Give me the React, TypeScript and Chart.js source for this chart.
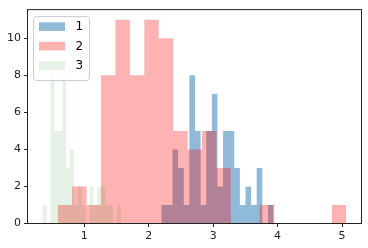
import React, { useEffect, useRef } from "react";
import { Chart, registerables } from "chart.js";

Chart.register(...registerables);

// ---- data ----
const seriesLabels = ["1", "2", "3"];
const seriesColors = ["rgba(31,119,180,0.5)", "rgba(255,0,0,0.3)", "rgba(0,128,0,0.1)"];

// [first bin edge, last bin edge] and the count in each of the 20 bins
const range1 = [2.195, 3.937];
const counts1 = [1, 1, 4, 3, 1, 8, 5, 1, 5, 7, 2, 5, 5, 3, 1, 2, 1, 3, 0, 1];
const range2 = [0.586, 5.067];
const counts2 = [1, 2, 1, 8, 11, 8, 11, 10, 5, 4, 5, 3, 0, 0, 1, 0, 0, 0, 0, 1];
const range3 = [0.353, 1.568];
const counts3 = [1, 0, 8, 5, 5, 8, 3, 4, 1, 2, 1, 0, 2, 1, 2, 2, 1, 1, 0, 1];

const xTicks = [1, 2, 3, 4, 5];
const yTicks = [0, 2, 4, 6, 8, 10];

// histogram outline as step points (value of each bin held until the next edge)
function histPoints(range: number[], counts: number[]) {
  const [lo, hi] = range;
  const w = (hi - lo) / counts.length;
  const pts = [{ x: lo, y: 0 }];
  counts.forEach((c, i) => pts.push({ x: lo + i * w, y: c }));
  pts.push({ x: hi, y: 0 });
  return pts;
}

const ranges = [range1, range2, range3];
const countsAll = [counts1, counts2, counts3];

const spinesPlugin = {
  id: "spines",
  afterDatasetsDraw(chart: any) {
    const { ctx, chartArea: a } = chart;
    ctx.save();
    ctx.strokeStyle = "#222";
    ctx.lineWidth = 1;
    ctx.strokeRect(a.left, a.top, a.right - a.left, a.bottom - a.top);
    ctx.restore();
  },
};

const legendPlugin = {
  id: "mplLegend",
  afterDraw(chart: any) {
    const { ctx, chartArea: a } = chart;
    const x0 = a.left + 6;
    const y0 = a.top + 7;
    const w = 56;
    const h = 64;
    ctx.save();
    ctx.beginPath();
    if ((ctx as any).roundRect) (ctx as any).roundRect(x0, y0, w, h, 3);
    else ctx.rect(x0, y0, w, h);
    ctx.fillStyle = "rgba(255,255,255,0.8)";
    ctx.fill();
    ctx.strokeStyle = "#cccccc";
    ctx.lineWidth = 1;
    ctx.stroke();
    chart.data.datasets.forEach((ds: any, i: number) => {
      const cy = y0 + 10 + i * 19.5;
      ctx.fillStyle = ds.backgroundColor;
      ctx.fillRect(x0 + 5.5, cy - 4.3, 26, 8.6);
      ctx.fillStyle = "#000";
      ctx.font = '12px "DejaVu Sans"';
      ctx.textBaseline = "middle";
      ctx.textAlign = "left";
      ctx.fillText(ds.label, x0 + 42, cy + 0.5);
    });
    ctx.restore();
  },
};

export default function App() {
  const ref = useRef<HTMLCanvasElement>(null);

  useEffect(() => {
    const allLo = Math.min(...ranges.map((r) => r[0]));
    const allHi = Math.max(...ranges.map((r) => r[1]));
    const margin = 0.05 * (allHi - allLo);
    const yMax = Math.max(...countsAll.map((c) => Math.max(...c))) * 1.05;

    const tickFont = { family: "DejaVu Sans", size: 11 };

    const chart = new Chart(ref.current as HTMLCanvasElement, {
      type: "line",
      data: {
        datasets: seriesLabels.map((label, i) => ({
          label,
          data: histPoints(ranges[i], countsAll[i]),
          backgroundColor: seriesColors[i],
          borderColor: "rgba(0,0,0,0)",
          borderWidth: 0,
          fill: "origin",
          stepped: "before",
          pointRadius: 0,
          pointHoverRadius: 0,
          tension: 0,
          order: 3 - i,
        })),
      },
      options: {
        animation: false,
        responsive: false,
        maintainAspectRatio: false,
        devicePixelRatio: 1,
        events: [],
        layout: { padding: { top: 6.5, right: 6.5, left: 0, bottom: 0 } },
        plugins: { legend: { display: false }, tooltip: { enabled: false } },
        scales: {
          x: {
            type: "linear",
            min: allLo - margin,
            max: allHi + margin,
            afterFit: (s: any) => {
              s.height = 24.5;
            },
            afterBuildTicks: (s: any) => {
              s.ticks = xTicks.map((v) => ({ value: v }));
            },
            border: { display: false },
            grid: { display: true, drawOnChartArea: false, drawTicks: true, tickLength: 3.5, color: "#222", lineWidth: 1 },
            ticks: {
              font: tickFont,
              color: "#222",
              padding: 2.5,
              maxRotation: 0,
              autoSkip: false,
              callback: (v: any) => String(v),
            },
          },
          y: {
            type: "linear",
            min: 0,
            max: yMax,
            afterFit: (s: any) => {
              s.width = 27.5;
            },
            afterBuildTicks: (s: any) => {
              s.ticks = yTicks.map((v) => ({ value: v }));
            },
            border: { display: false },
            grid: { display: true, drawOnChartArea: false, drawTicks: true, tickLength: 3.5, color: "#222", lineWidth: 1 },
            ticks: {
              font: tickFont,
              color: "#222",
              padding: 3,
              autoSkip: false,
              callback: (v: any) => String(v),
            },
          },
        },
      } as any,
      plugins: [spinesPlugin, legendPlugin],
    });
    return () => chart.destroy();
  }, []);

  return (
    <div style={{ position: "absolute", left: 0, top: 0, width: 368, height: 248, background: "#fff" }}>
      <canvas ref={ref} width={368} height={248} style={{ display: "block" }} />
    </div>
  );
}
